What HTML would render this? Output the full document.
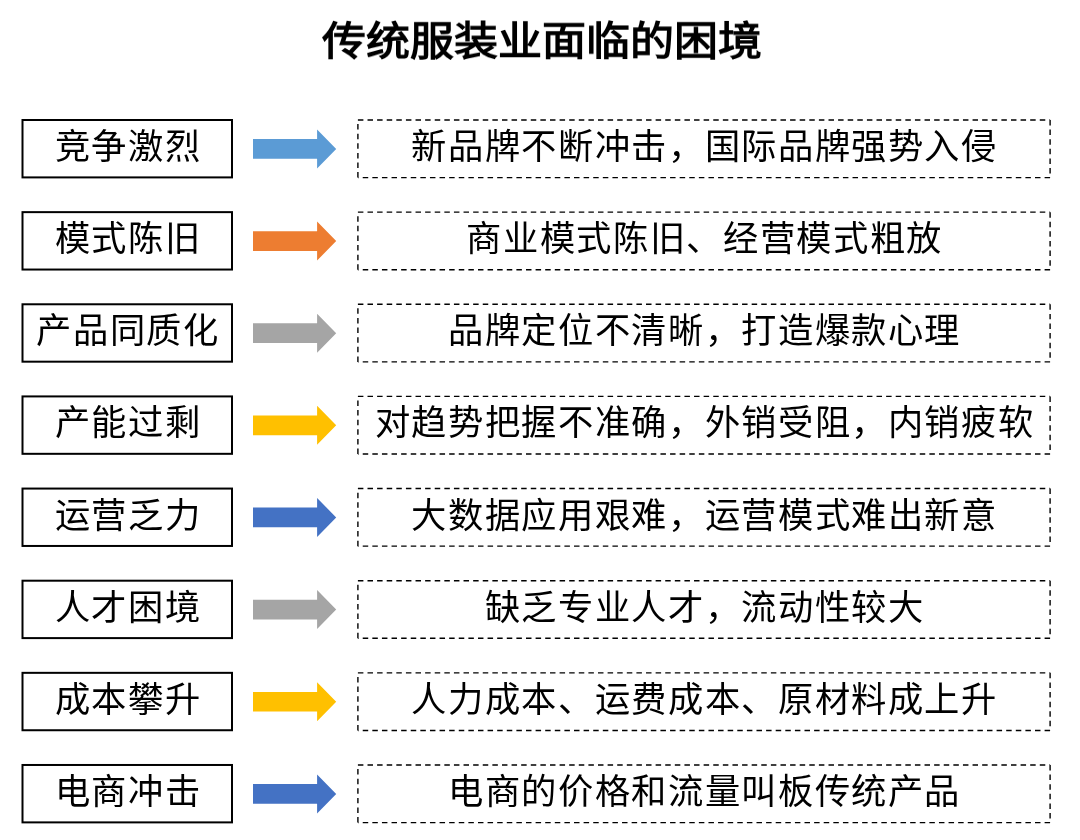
<!DOCTYPE html>
<html lang="zh-CN"><head><meta charset="utf-8"><title>传统服装业面临的困境</title>
<style>
html,body{margin:0;padding:0;background:#fff;}
body{width:1080px;height:840px;position:relative;overflow:hidden;font-family:"Liberation Sans",sans-serif;color:#000;}
svg{position:absolute;left:0;top:0;}
h1{position:absolute;margin:0;left:0;width:1084px;top:11.85px;text-align:center;font-size:44px;line-height:60px;font-weight:700;letter-spacing:0;white-space:nowrap;transform:scaleY(0.91);transform-origin:50% 27.5px;will-change:transform;}
.t{position:absolute;height:58px;line-height:58px;font-size:35.3px;letter-spacing:1.65px;padding-left:1.2px;box-sizing:border-box;white-space:nowrap;text-align:center;will-change:transform;}
.l{left:22px;width:211px;}
.r{left:358px;width:692px;}
</style></head><body>
<svg width="1080" height="840" viewBox="0 0 1080 840">
<rect x="22.5" y="120.00" width="209.5" height="57.4" fill="none" stroke="#000" stroke-width="2"/>
<path d="M253 139.05H317.1V129.40L336.2 148.90L317.1 168.40V158.75H253Z" fill="#5B9BD5"/>
<path d="M357.9 120.00H1050.1M1050.1 120.00V177.60M1050.1 177.60H357.9M357.9 177.60V120.00" fill="none" stroke="#000" stroke-width="1.4" stroke-dasharray="5.49 4.114"/>
<rect x="22.5" y="212.14" width="209.5" height="57.4" fill="none" stroke="#000" stroke-width="2"/>
<path d="M253 231.19H317.1V221.54L336.2 241.04L317.1 260.54V250.89H253Z" fill="#ED7D31"/>
<path d="M357.9 212.14H1050.1M1050.1 212.14V269.74M1050.1 269.74H357.9M357.9 269.74V212.14" fill="none" stroke="#000" stroke-width="1.4" stroke-dasharray="5.49 4.114"/>
<rect x="22.5" y="304.28" width="209.5" height="57.4" fill="none" stroke="#000" stroke-width="2"/>
<path d="M253 323.33H317.1V313.68L336.2 333.18L317.1 352.68V343.03H253Z" fill="#A5A5A5"/>
<path d="M357.9 304.28H1050.1M1050.1 304.28V361.88M1050.1 361.88H357.9M357.9 361.88V304.28" fill="none" stroke="#000" stroke-width="1.4" stroke-dasharray="5.49 4.114"/>
<rect x="22.5" y="396.42" width="209.5" height="57.4" fill="none" stroke="#000" stroke-width="2"/>
<path d="M253 415.47H317.1V405.82L336.2 425.32L317.1 444.82V435.17H253Z" fill="#FFC000"/>
<path d="M357.9 396.42H1050.1M1050.1 396.42V454.02M1050.1 454.02H357.9M357.9 454.02V396.42" fill="none" stroke="#000" stroke-width="1.4" stroke-dasharray="5.49 4.114"/>
<rect x="22.5" y="488.56" width="209.5" height="57.4" fill="none" stroke="#000" stroke-width="2"/>
<path d="M253 507.61H317.1V497.96L336.2 517.46L317.1 536.96V527.31H253Z" fill="#4472C4"/>
<path d="M357.9 488.56H1050.1M1050.1 488.56V546.16M1050.1 546.16H357.9M357.9 546.16V488.56" fill="none" stroke="#000" stroke-width="1.4" stroke-dasharray="5.49 4.114"/>
<rect x="22.5" y="580.70" width="209.5" height="57.4" fill="none" stroke="#000" stroke-width="2"/>
<path d="M253 599.75H317.1V590.10L336.2 609.60L317.1 629.10V619.45H253Z" fill="#A5A5A5"/>
<path d="M357.9 580.70H1050.1M1050.1 580.70V638.30M1050.1 638.30H357.9M357.9 638.30V580.70" fill="none" stroke="#000" stroke-width="1.4" stroke-dasharray="5.49 4.114"/>
<rect x="22.5" y="672.84" width="209.5" height="57.4" fill="none" stroke="#000" stroke-width="2"/>
<path d="M253 691.89H317.1V682.24L336.2 701.74L317.1 721.24V711.59H253Z" fill="#FFC000"/>
<path d="M357.9 672.84H1050.1M1050.1 672.84V730.44M1050.1 730.44H357.9M357.9 730.44V672.84" fill="none" stroke="#000" stroke-width="1.4" stroke-dasharray="5.49 4.114"/>
<rect x="22.5" y="764.98" width="209.5" height="57.4" fill="none" stroke="#000" stroke-width="2"/>
<path d="M253 784.03H317.1V774.38L336.2 793.88L317.1 813.38V803.73H253Z" fill="#4472C4"/>
<path d="M357.9 764.98H1050.1M1050.1 764.98V822.58M1050.1 822.58H357.9M357.9 822.58V764.98" fill="none" stroke="#000" stroke-width="1.4" stroke-dasharray="5.49 4.114"/>
</svg>
<h1>传统服装业面临的困境</h1>
<div class="t l" style="top:118.00px">竞争激烈</div>
<div class="t r" style="top:118.00px">新品牌不断冲击，国际品牌强势入侵</div>
<div class="t l" style="top:210.14px">模式陈旧</div>
<div class="t r" style="top:210.14px">商业模式陈旧、经营模式粗放</div>
<div class="t l" style="top:302.28px">产品同质化</div>
<div class="t r" style="top:302.28px">品牌定位不清晰，打造爆款心理</div>
<div class="t l" style="top:394.42px">产能过剩</div>
<div class="t r" style="top:394.42px">对趋势把握不准确，外销受阻，内销疲软</div>
<div class="t l" style="top:486.56px">运营乏力</div>
<div class="t r" style="top:486.56px">大数据应用艰难，运营模式难出新意</div>
<div class="t l" style="top:578.70px">人才困境</div>
<div class="t r" style="top:578.70px">缺乏专业人才，流动性较大</div>
<div class="t l" style="top:670.84px">成本攀升</div>
<div class="t r" style="top:670.84px">人力成本、运费成本、原材料成上升</div>
<div class="t l" style="top:762.98px">电商冲击</div>
<div class="t r" style="top:762.98px">电商的价格和流量叫板传统产品</div>
</body></html>
